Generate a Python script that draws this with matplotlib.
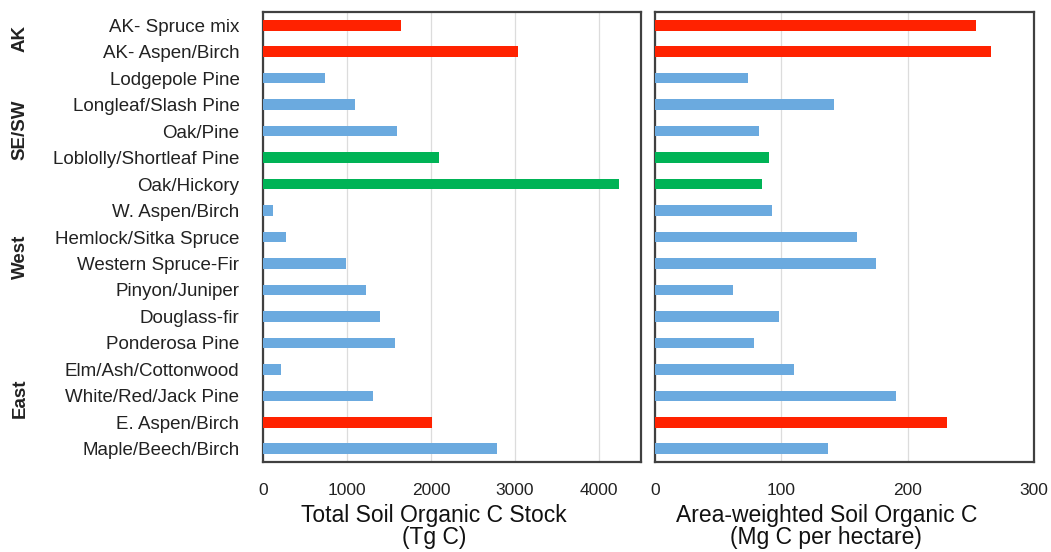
import matplotlib
matplotlib.use("Agg")
import matplotlib.pyplot as plt

plt.rcParams['font.family'] = ['Liberation Sans', 'DejaVu Sans']

categories = ["AK- Spruce mix", "AK- Aspen/Birch", "Lodgepole Pine", "Longleaf/Slash Pine",
              "Oak/Pine", "Loblolly/Shortleaf Pine", "Oak/Hickory", "W. Aspen/Birch",
              "Hemlock/Sitka Spruce", "Western Spruce-Fir", "Pinyon/Juniper", "Douglass-fir",
              "Ponderosa Pine", "Elm/Ash/Cottonwood", "White/Red/Jack Pine", "E. Aspen/Birch",
              "Maple/Beech/Birch"]
total_stock = [1640, 3040, 735, 1100, 1590, 2100, 4240, 115, 270, 990, 1225, 1395, 1575,
               215, 1315, 2010, 2785]
area_weighted = [254, 266, 74, 142, 82, 90, 85, 93, 160, 175, 62, 98, 78, 110, 191, 231, 137]
highlight = ["red", "red", "blue", "blue", "blue", "green", "green", "blue", "blue", "blue",
             "blue", "blue", "blue", "blue", "blue", "red", "blue"]
groups = ["AK", "SE/SW", "West", "East"]
group_pos = [0.5, 4.0, 8.8, 14.2]

palette = {"red": "#FF2200", "blue": "#6BAADF", "green": "#00B356"}
colors = [palette[h] for h in highlight]

fig = plt.figure(figsize=(10.51, 5.52), dpi=100)
W, H = 1051, 552
ax_top, ax_bot = 12, 462
ax1 = fig.add_axes([263 / W, 1 - ax_bot / H, (641 - 263) / W, (ax_bot - ax_top) / H])
ax2 = fig.add_axes([655 / W, 1 - ax_bot / H, (1034 - 655) / W, (ax_bot - ax_top) / H])

y = list(range(len(categories)))
for ax, vals, xlim, ticks, label in [
    (ax1, total_stock, 4500, [0, 1000, 2000, 3000, 4000], "Total Soil Organic C Stock\n(Tg C)"),
    (ax2, area_weighted, 300, [0, 100, 200, 300], "Area-weighted Soil Organic C\n(Mg C per hectare)"),
]:
    ax.barh(y, vals, height=0.4, color=colors, zorder=3)
    ax.set_xlim(0, xlim)
    ax.set_ylim(len(categories) - 0.5, -0.5)
    ax.set_xticks(ticks)
    ax.set_xticklabels([str(t) for t in ticks], fontsize=12.5, color="#222222")
    ax.grid(axis="x", color="#dcdcdc", linewidth=0.9, zorder=0)
    ax.tick_params(axis="x", length=0, pad=15)
    for sp in ax.spines.values():
        sp.set_color("#404040")
        sp.set_linewidth(1.6)
    ax.set_xlabel(label, fontsize=16.5, color="#111111", linespacing=0.93)
    ax.xaxis.set_label_coords(0.452, -0.093)

ax1.set_yticks(y)
ax1.set_yticklabels(categories, fontsize=13.5, color="#222222")
ax1.tick_params(axis="y", length=0, pad=17)
ax2.set_yticks([])

for g, p in zip(groups, group_pos):
    yy = 1 - (25 + p * 26.3) / H
    fig.text(20 / W, yy, g, rotation=90, ha="center", va="center", fontsize=13.5,
             fontweight="bold", color="#222222")

fig.savefig("out.png", dpi=100)
